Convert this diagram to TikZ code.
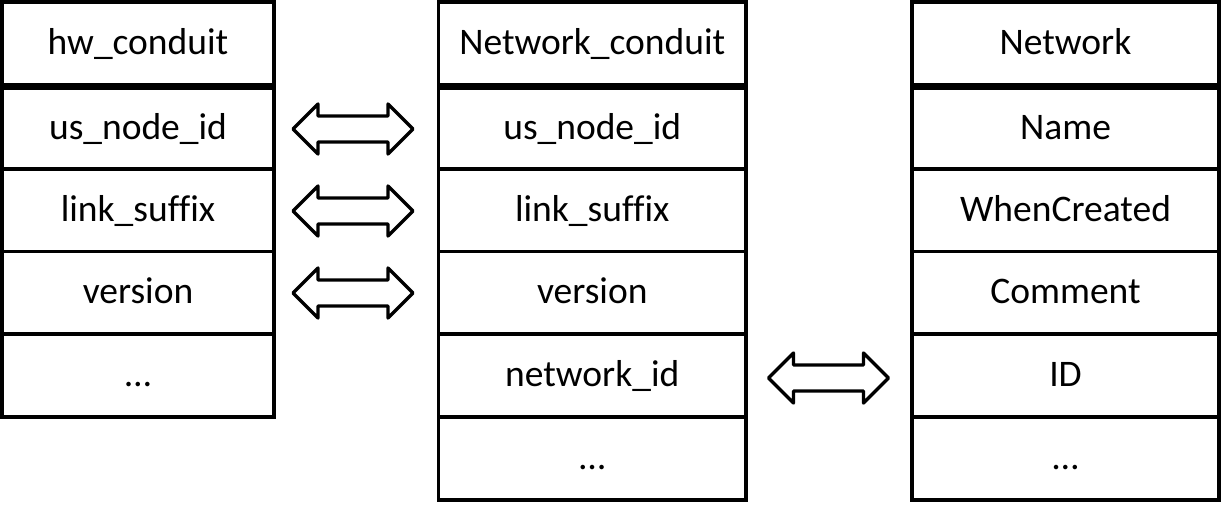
\documentclass[tikz,border=0pt]{standalone}
\usepackage{fontspec}
\setmainfont[Ligatures=NoCommon]{Carlito}
\begin{document}
\begin{tikzpicture}[x=1pt,y=-1pt,
  cell/.style={draw=black,line width=3.6pt,rectangle,inner sep=0pt,outer sep=0pt,
    font=\fontsize{37.5}{40}\selectfont,text height=28pt,text depth=5.5pt,anchor=center},
  lcell/.style={cell,minimum width=272pt},
  wcell/.style={cell,minimum width=307.5pt},
  hdr/.style={minimum height=83pt},
  r1/.style={minimum height=81pt},
  rr/.style={minimum height=82.7pt},
  arr/.style={draw=black,line width=3.4pt,line join=round,fill=white}
]
\useasboundingbox (0,0) rectangle (1221,504);
% left table
\node[lcell,hdr] (Lh) at (138,43.5) {hw\_conduit};
\node[lcell,r1] (L1) at (138,128.5) {us\_node\_id};
\node[lcell,rr] (L2) at (138,210.3) {link\_suffix};
\node[lcell,rr] (L3) at (138,292.7) {version};
\node[lcell,rr] (L4) at (138,375.5) {…};
% middle table
\node[wcell,hdr] (Mh) at (592.25,43.5) {Network\_conduit};
\node[wcell,r1] (M1) at (592.25,128.5) {us\_node\_id};
\node[wcell,rr] (M2) at (592.25,210.3) {link\_suffix};
\node[wcell,rr] (M3) at (592.25,292.7) {version};
\node[wcell,rr] (M4) at (592.25,375.5) {network\_id};
\node[wcell,rr] (M5) at (592.25,458.5) {…};
% right table
\node[wcell,hdr] (Rh) at (1065.5,43.5) {Network};
\node[wcell,r1] (R1) at (1065.5,128.5) {Name};
\node[wcell,rr] (R2) at (1065.5,210.3) {WhenCreated};
\node[wcell,rr] (R3) at (1065.5,292.7) {Comment};
\node[wcell,rr] (R4) at (1065.5,375.5) {ID};
\node[wcell,rr] (R5) at (1065.5,458.5) {…};
% double arrows between rows
\tikzset{dblarrow/.pic={
  \draw[arr] (-60,0) -- (-35,-25) -- (-35,-13) -- (35,-13) -- (35,-25) -- (60,0)
    -- (35,25) -- (35,13) -- (-35,13) -- (-35,25) -- cycle;}}
\coordinate (A1) at (353,129);
\coordinate (A2) at (353,211);
\coordinate (A3) at (353,293);
\coordinate (A4) at (828.5,378);
\pic at (A1) {dblarrow};
\pic at (A2) {dblarrow};
\pic at (A3) {dblarrow};
\pic at (A4) {dblarrow};
\end{tikzpicture}
\end{document}
